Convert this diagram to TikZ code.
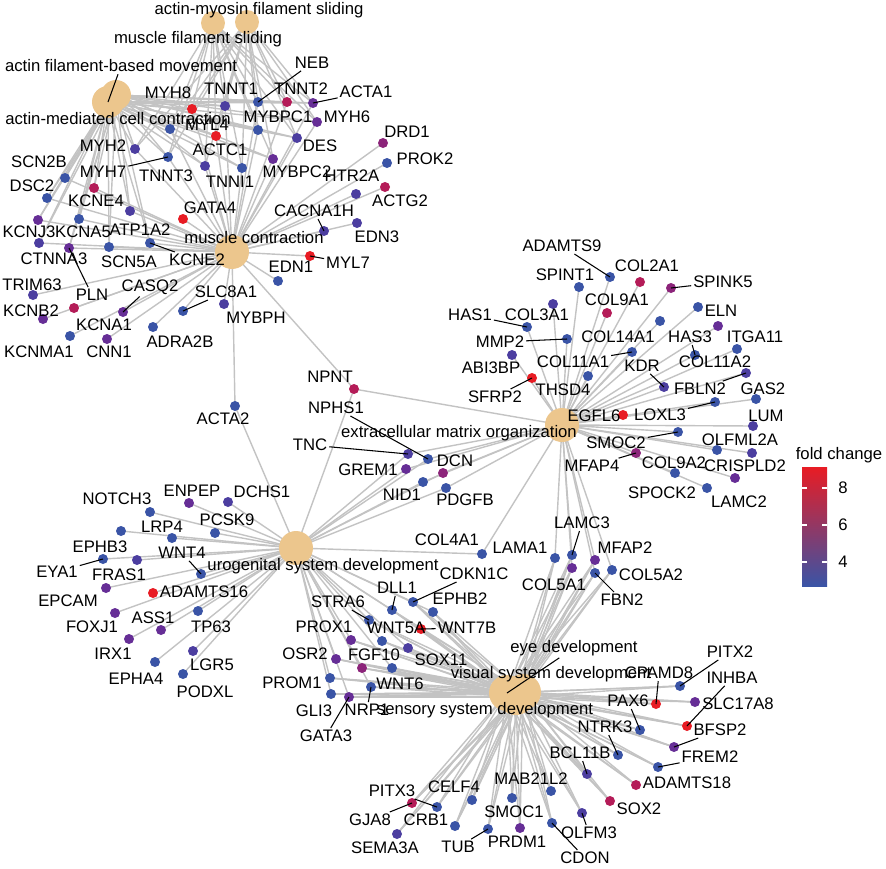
\documentclass[tikz,border=0pt]{standalone}
\usepackage{fontspec}
\setmainfont{Liberation Sans}
\usepackage{tikz}
\usetikzlibrary{backgrounds}
\definecolor{catfill}{RGB}{236,198,141}
\definecolor{edgegray}{RGB}{195,195,195}
\definecolor{fcA}{RGB}{58,84,166}
\definecolor{fcB}{RGB}{76,62,160}
\definecolor{fcC}{RGB}{102,46,150}
\definecolor{fcD}{RGB}{140,36,122}
\definecolor{fcE}{RGB}{180,28,88}
\definecolor{fcF}{RGB}{232,28,36}

\begin{document}
\begin{tikzpicture}[x=0.02cm,y=-0.02cm]
\tikzstyle{gene}=[circle,inner sep=0pt,minimum size=0.2cm]
\tikzstyle{cat}=[circle,inner sep=0pt,fill=catfill]
\tikzstyle{lab}=[inner sep=1pt,font=\fontsize{9.5}{11}\selectfont]
\tikzstyle{edge}=[draw=edgegray,line width=0.8pt]
\tikzstyle{leader}=[draw=black,line width=0.6pt]
\useasboundingbox (0,0) rectangle (886,869);

% category nodes
\node[cat,minimum size=0.48cm] (mfs) at (213,23) {};
\node[cat,minimum size=0.48cm] (amfs) at (247,22) {};
\node[cat,minimum size=0.64cm] (afm) at (108,102) {};
\node[cat,minimum size=0.6cm] (amc) at (116,95) {};
\node[cat,minimum size=0.68cm] (mc) at (232,252) {};
\node[cat,minimum size=0.68cm] (ecm) at (562,425) {};
\node[cat,minimum size=0.68cm] (usd) at (296,548) {};
\node[cat,minimum size=0.72cm] (eyed) at (507,693) {};
\node[cat,minimum size=0.72cm] (vsd) at (523,692) {};
\node[cat,minimum size=0.72cm] (ssd) at (516,697) {};

% gene nodes
\foreach \n/\x/\y/\c in {
  MYH8/192/109/fcF, TNNT1/225/106/fcB, NEB/258/102/fcA, TNNT2/287/102/fcE,
  ACTA1/313/103/fcC, MYH6/317/122/fcC, MYBPC1/258/130/fcA, DES/297/138/fcB,
  MYL4/216/136/fcF, TNNT3/170/129/fcA, MYH2/135/149/fcB, MYH7/168/157/fcA,
  ACTC1/205/166/fcB, TNNI1/242/168/fcA, MYBPC2/273/159/fcC, HTR2A/356/194/fcB,
  DRD1/383/143/fcD, PROK2/387/163/fcA, ACTG2/385/187/fcE, CACNA1H/324/231/fcB,
  EDN3/357/223/fcB, MYL7/310/256/fcF, EDN1/278/281/fcA, GATA4/183/219/fcF,
  SCN2B/65/178/fcA, DSC2/47/198/fcA, KCNE4/94/188/fcE, KCNA5/79/219/fcA,
  ATP1A2/130/211/fcB, KCNJ3/38/220/fcC, CTNNA3/39/243/fcB, PLN/69/248/fcC,
  SCN5A/109/247/fcA, KCNE2/150/243/fcA, TRIM63/33/295/fcB, KCNB2/43/319/fcC,
  KCNA1/74/308/fcE, CASQ2/123/312/fcC, SLC8A1/183/311/fcA, MYBPH/224/304/fcB,
  KCNMA1/70/336/fcA, CNN1/107/339/fcC, ADRA2B/153/327/fcA, ACTA2/235/406/fcA,
  NPNT/354/389/fcE, NPHS1/428/459/fcA, TNC/408/454/fcB, DCN/443/473/fcD,
  GREM1/406/469/fcC, NID1/423/482/fcA, PDGFB/446/488/fcA,
  ADAMTS9/610/277/fcA, COL2A1/640/282/fcE, SPINT1/579/287/fcA, SPINK5/671/288/fcD,
  COL9A1/607/313/fcE, COL3A1/553/304/fcB, HAS1/527/327/fcA, ELN/698/307/fcA,
  COL14A1/660/321/fcA, COL11A2/718/326/fcC, MMP2/567/339/fcA, COL11A1/632/352/fcA,
  HAS3/695/355/fcA, ITGA11/737/349/fcA, ABI3BP/512/355/fcB, THSD4/588/376/fcA,
  KDR/664/387/fcB, FBLN2/746/373/fcB, SFRP2/532/378/fcF, GAS2/756/399/fcA,
  LOXL3/715/402/fcA, EGFL6/623/415/fcF, LUM/753/426/fcB, SMOC2/678/432/fcA,
  OLFML2A/717/450/fcA, dotA/752/453/fcB, MFAP4/636/453/fcD, SPOCK2/675/473/fcA,
  CRISPLD2/735/478/fcC, LAMC2/707/488/fcA,
  COL4A1/482/554/fcA, LAMA1/555/558/fcA, LAMC3/572/555/fcA, COL5A1/572/568/fcC,
  MFAP2/595/560/fcC, FBN2/595/573/fcA, COL5A2/612/570/fcA,
  NOTCH3/150/512/fcA, ENPEP/189/503/fcC, DCHS1/228/502/fcB, LRP4/172/538/fcA,
  PCSK9/215/533/fcA, EPHB3/121/531/fcA, EYA1/103/559/fcA, FRAS1/137/560/fcB,
  WNT4/201/574/fcA, EPCAM/106/588/fcC, ADAMTS16/153/593/fcF, FOXJ1/115/613/fcC,
  ASS1/161/630/fcC, TP63/198/611/fcA, IRX1/129/639/fcC, EPHA4/155/662/fcA,
  LGR5/193/651/fcB, PODXL/183/674/fcA,
  STRA6/369/620/fcA, DLL1/392/610/fcA, CDKN1C/413/602/fcA, EPHB2/433/612/fcA,
  WNT5A/382/641/fcA, WNT7B/421/629/fcF, PROX1/351/640/fcC, SOX11/408/648/fcB,
  FGF10/362/668/fcD, WNT6/392/668/fcA, OSR2/336/659/fcC, PROM1/330/678/fcA,
  GLI3/331/694/fcA, GATA3/349/697/fcC, NRP1/371/687/fcA,
  CPAMD8/656/704/fcF, PITX2/680/686/fcA, SLC17A8/695/702/fcC, INHBA/687/726/fcF,
  BFSP2/674/747/fcC, FREM2/658/767/fcA, PAX6/640/730/fcA, NTRK3/618/755/fcA,
  BCL11B/587/774/fcB, ADAMTS18/636/785/fcE, SOX2/610/801/fcE, MAB21L2/551/791/fcA,
  SMOC1/512/798/fcA, OLFM3/582/813/fcB, PRDM1/520/828/fcC, CDON/552/823/fcA,
  TUB/488/829/fcA, CELF4/472/800/fcA, CRB1/455/826/fcA, PITX3/437/807/fcA,
  GJA8/412/803/fcE, SEMA3A/397/834/fcB}
  \node[gene,fill=\c] (\n) at (\x,\y) {};

% edges
\begin{scope}[on background layer]
\foreach \g in {MYH8,TNNT1,NEB,TNNT2,ACTA1,MYH6,MYBPC1,DES,MYL4,TNNT3,MYH2,MYH7,ACTC1,TNNI1,MYBPC2}
  \foreach \k in {amfs,mfs,afm,amc,mc}
    \draw[edge] (\k.center) -- (\g.center);
\foreach \g in {SCN2B,DSC2,KCNE4,KCNA5,ATP1A2,KCNJ3,CTNNA3,PLN,SCN5A,KCNE2}
  \foreach \k in {afm,amc,mc}
    \draw[edge] (\k.center) -- (\g.center);
\foreach \g in {GATA4,TRIM63,KCNB2,KCNA1,CASQ2,SLC8A1,MYBPH,KCNMA1,CNN1,ADRA2B,EDN1,MYL7,CACNA1H,EDN3,HTR2A,DRD1,PROK2,ACTG2,ACTA2,NPNT}
  \draw[edge] (mc.center) -- (\g.center);
\foreach \g in {ADAMTS9,COL2A1,SPINT1,SPINK5,COL9A1,COL3A1,HAS1,ELN,COL14A1,COL11A2,MMP2,COL11A1,HAS3,ITGA11,ABI3BP,THSD4,KDR,FBLN2,SFRP2,GAS2,LOXL3,EGFL6,LUM,SMOC2,OLFML2A,dotA,MFAP4,SPOCK2,CRISPLD2,LAMC2}
  \draw[edge] (ecm.center) -- (\g.center);
\foreach \g in {NPNT,NPHS1,TNC,DCN,GREM1,NID1,PDGFB,COL4A1}
  \foreach \k in {ecm,usd}
    \draw[edge] (\k.center) -- (\g.center);
\foreach \g in {LAMA1,LAMC3,COL5A1,MFAP2,FBN2,COL5A2}
  \foreach \k in {ecm,eyed,vsd,ssd}
    \draw[edge] (\k.center) -- (\g.center);
\foreach \g in {NOTCH3,ENPEP,DCHS1,LRP4,PCSK9,EPHB3,EYA1,FRAS1,WNT4,EPCAM,ADAMTS16,FOXJ1,ASS1,TP63,IRX1,EPHA4,LGR5,PODXL,ACTA2}
  \draw[edge] (usd.center) -- (\g.center);
\foreach \g in {STRA6,DLL1,CDKN1C,EPHB2,WNT5A,WNT7B,PROX1,SOX11,FGF10,WNT6,OSR2,PROM1,GLI3,GATA3,NRP1}
  \foreach \k in {usd,eyed,vsd,ssd}
    \draw[edge] (\k.center) -- (\g.center);
\foreach \g in {CPAMD8,PITX2,SLC17A8,INHBA,BFSP2,FREM2,PAX6,NTRK3,BCL11B,ADAMTS18,SOX2,MAB21L2,SMOC1,OLFM3,PRDM1,CDON,TUB,CELF4,CRB1,PITX3,GJA8,SEMA3A}
  \foreach \k in {eyed,vsd,ssd}
    \draw[edge] (\k.center) -- (\g.center);
\end{scope}

% gene labels
\foreach \n/\x/\y in {
  MYH8/168/93, TNNT1/231/89, NEB/312/63, TNNT2/301/89, ACTA1/366/92, MYH6/347/117,
  MYBPC1/278/117, DES/320/146, MYL4/207/125, MYH2/103/146, MYH7/103/172, TNNT3/166/176,
  ACTC1/220/150, TNNI1/230/182, MYBPC2/297/172, HTR2A/352/176, DRD1/407/132, PROK2/425/159,
  ACTG2/400/201, CACNA1H/314/211, EDN3/377/237, MYL7/348/263, EDN1/291/267, GATA4/210/208,
  SCN2B/39/162, DSC2/32/186, KCNE4/96/201, KCNA5/83/232, ATP1A2/140/230, KCNJ3/29/232,
  CTNNA3/54/259, PLN/92/295, SCN5A/129/262, KCNE2/197/260, TRIM63/32/285, KCNB2/31/311,
  KCNA1/104/325, CASQ2/150/287, SLC8A1/226/292, MYBPH/256/318, KCNMA1/39/352, CNN1/109/352,
  ADRA2B/180/342, ACTA2/223/419,
  NPNT/330/377, NPHS1/336/408, TNC/310/445, DCN/455/461, GREM1/368/470, NID1/402/495,
  PDGFB/465/500, ADAMTS9/562/246, COL2A1/647/266, SPINT1/565/275, SPINK5/723/282,
  COL9A1/617/300, COL3A1/537/315, HAS1/470/315, ELN/721/311, MMP2/500/342, COL14A1/618/337,
  HAS3/690/337, ITGA11/755/337, ABI3BP/491/368, COL11A1/573/362, KDR/642/366,
  COL11A2/715/362, FBLN2/700/389, SFRP2/495/397, THSD4/563/390, GAS2/763/389,
  LOXL3/660/415, EGFL6/594/416, LUM/766/416, SMOC2/616/443, OLFML2A/740/440,
  MFAP4/592/466, COL9A2/674/463, CRISPLD2/745/466, SPOCK2/662/493, LAMC2/739/502,
  COL4A1/447/540, LAMA1/520/548, LAMC3/582/523, COL5A1/554/585, MFAP2/625/548,
  FBN2/622/600, COL5A2/651/575,
  NOTCH3/117/499, ENPEP/192/491, DCHS1/262/492, LRP4/162/527, PCSK9/227/520, EPHB3/100/547,
  EYA1/57/572, FRAS1/119/575, WNT4/182/553, EPCAM/68/601, ADAMTS16/204/592, FOXJ1/92/627,
  ASS1/153/618, TP63/211/627, IRX1/113/654, EPHA4/136/679, LGR5/212/665, PODXL/205/692,
  STRA6/338/602, DLL1/397/588, CDKN1C/474/574, EPHB2/460/599, WNT5A/396/628, WNT7B/467/628,
  PROX1/324/627, SOX11/441/660, FGF10/374/655, WNT6/400/684, OSR2/305/654, PROM1/292/683,
  GLI3/314/711, GATA3/326/736, NRP1/367/710,
  CPAMD8/659/673, PITX2/730/652, SLC17A8/738/704, INHBA/732/678, BFSP2/720/730,
  FREM2/710/757, PAX6/628/701, NTRK3/605/727, BCL11B/580/753, ADAMTS18/687/783,
  SOX2/639/809, MAB21L2/531/779, OLFM3/589/833, SMOC1/514/812, PRDM1/517/842,
  CDON/585/858, TUB/458/847, CELF4/454/787, CRB1/426/820, PITX3/392/791, GJA8/370/820,
  SEMA3A/385/848}
  \node[lab] (l\n) at (\x,\y) {\n};

% category labels
\node[lab] (lamfs) at (259,10) {actin-myosin filament sliding};
\node[lab] (lmfs) at (198,39) {muscle filament sliding};
\node[lab] (lafm) at (121,66) {actin filament-based movement};
\node[lab] (lamc) at (118,119) {actin-mediated cell contraction};
\node[lab] (lmc) at (254,238) {muscle contraction};
\node[lab] (lecm) at (459,433) {extracellular matrix organization};
\node[lab] (lusd) at (323,566) {urogenital system development};
\node[lab] (leye) at (574,648) {eye development};
\node[lab] (lvsd) at (551,674) {visual system development};
\node[lab] (lssd) at (485,710) {sensory system development};

% leader lines
\draw[leader] (lafm) -- (afm.center);
\draw[leader] (leye) -- (eyed.center);
\foreach \n in {NEB,ACTA1,MYH7,CACNA1H,MYL7,PLN,KCNE2,CASQ2,SLC8A1,NPHS1,TNC,ADAMTS9,
  SPINK5,HAS1,MMP2,COL11A1,HAS3,KDR,FBLN2,SFRP2,LOXL3,SMOC2,MFAP4,LAMC3,FBN2,EYA1,WNT4,
  STRA6,DLL1,CDKN1C,WNT7B,GATA3,NRP1,CPAMD8,PITX2,INHBA,BFSP2,FREM2,PAX6,NTRK3,BCL11B,
  OLFM3,CDON,TUB,PITX3,GJA8}
  \draw[leader] (l\n) -- (\n.center);

% legend
\node[lab] (lfold) at (839,455) {fold change};
\shade[top color=fcF,middle color=fcC,bottom color=fcA] (802,467) rectangle (827,586);
\foreach \t/\v in {488/8,525/6,562/4} {
  \draw[white,line width=0.6pt] (802,\t) -- (807,\t);
  \draw[white,line width=0.6pt] (822,\t) -- (827,\t);
  \node[lab] (t\v) at (843,\t) {\v};
}
\end{tikzpicture}
\end{document}
